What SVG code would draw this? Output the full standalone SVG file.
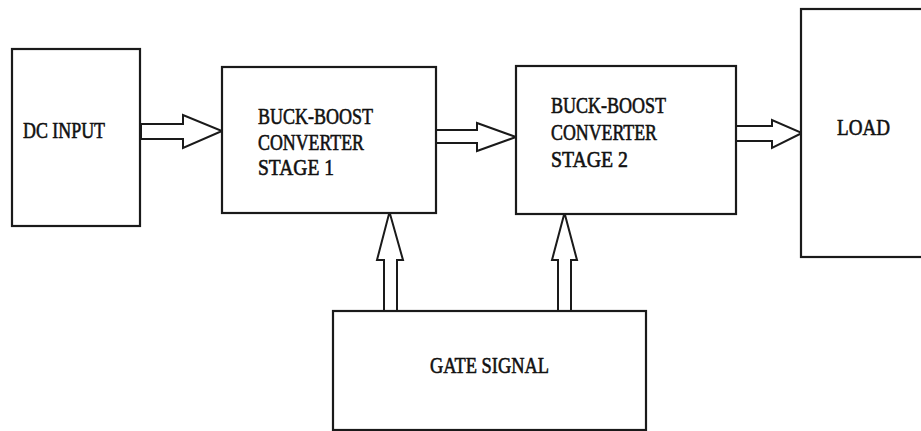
<svg xmlns="http://www.w3.org/2000/svg" width="921" height="431" viewBox="0 0 921 431">
<style>
.box{fill:#fff;stroke:#1a1a1a;stroke-width:2.2}
.arr{fill:#fff;stroke:#1a1a1a;stroke-width:2;stroke-linejoin:miter}
.t{font-family:"Liberation Serif",serif;font-size:23px;fill:#111;stroke:#111;stroke-width:0.6}
</style>
<rect width="921" height="431" fill="#fff"/>
<g id="connectors">
<polygon class="arr" points="141,124 183,124 183,115 222,131 183,148 183,139 141,139"/>
<polygon class="arr" points="436,130 477,130 477,123 516,137 477,151 477,143 436,143"/>
<polygon class="arr" points="736,126 772,126 772,120 802,133 772,148 772,141 736,141"/>
<polygon class="arr" points="384,311 384,260 377,260 389.5,212 403,260 397,260 397,311"/>
<polygon class="arr" points="558,311 558,260 552,260 564.5,213 577,260 571,260 571,311"/>
</g>
<g id="dc-input">
<rect class="box" x="12" y="49" width="128" height="177"/>
<text class="t" x="23" y="138" textLength="82" lengthAdjust="spacingAndGlyphs">DC INPUT</text>
</g>
<g id="stage1">
<rect class="box" x="222" y="67" width="214" height="146"/>
<text class="t" x="258" y="124" textLength="115" lengthAdjust="spacingAndGlyphs">BUCK-BOOST</text>
<text class="t" x="258" y="150" textLength="106" lengthAdjust="spacingAndGlyphs">CONVERTER</text>
<text class="t" x="258" y="175" textLength="76" lengthAdjust="spacingAndGlyphs">STAGE  1</text>
</g>
<g id="stage2">
<rect class="box" x="516" y="66" width="220" height="148"/>
<text class="t" x="551" y="113" textLength="115" lengthAdjust="spacingAndGlyphs">BUCK-BOOST</text>
<text class="t" x="551" y="140" textLength="106" lengthAdjust="spacingAndGlyphs">CONVERTER</text>
<text class="t" x="551" y="167" textLength="77" lengthAdjust="spacingAndGlyphs">STAGE  2</text>
</g>
<g id="load">
<rect class="box" x="801" y="9" width="140" height="248"/>
<text class="t" x="837" y="135" textLength="53" lengthAdjust="spacingAndGlyphs">LOAD</text>
</g>
<g id="gate-signal">
<rect class="box" x="333" y="311" width="313" height="119"/>
<text class="t" x="430" y="373" textLength="119" lengthAdjust="spacingAndGlyphs">GATE SIGNAL</text>
</g>
</svg>
